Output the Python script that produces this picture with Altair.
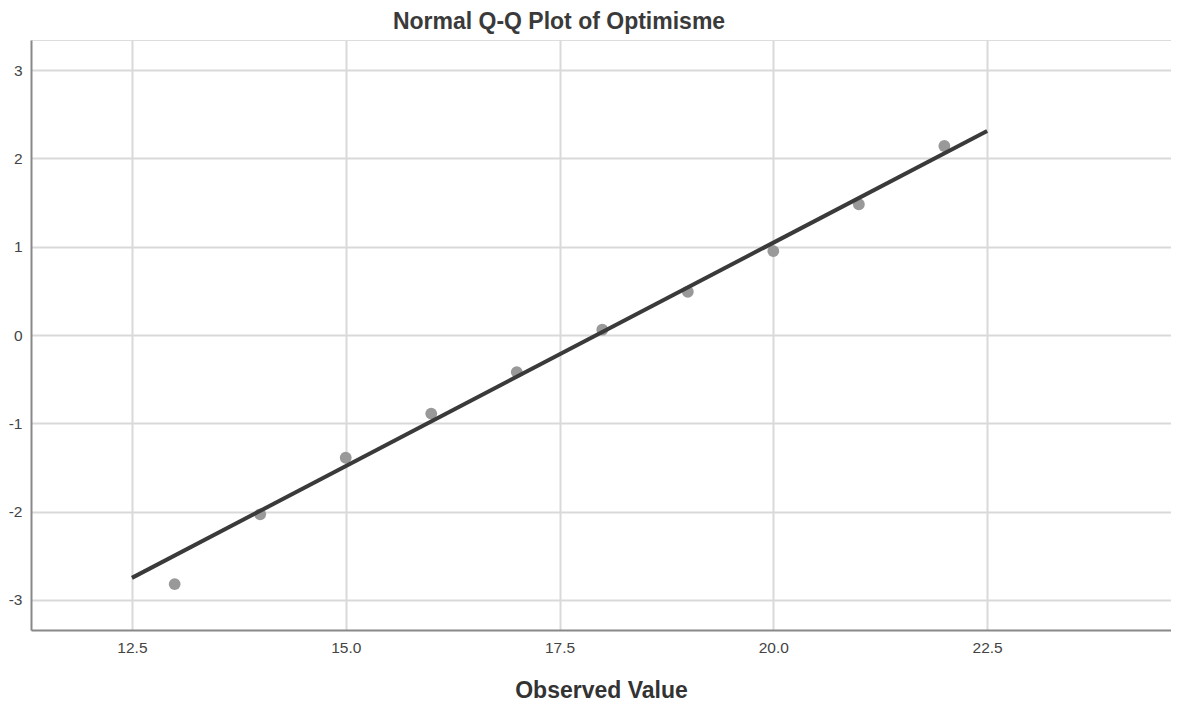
import altair as alt
import pandas as pd

observed = [13, 14, 15, 16, 17, 18, 19, 20, 21, 22]
expected = [-2.82, -2.03, -1.39, -0.89, -0.42, 0.06, 0.49, 0.95, 1.48, 2.14]
line_x = [12.5, 22.5]
line_y = [-2.75, 2.31]
x_ticks = [12.5, 15.0, 17.5, 20.0, 22.5]
y_ticks = [-3, -2, -1, 0, 1, 2, 3]

pts = pd.DataFrame({"x": observed, "y": expected})
ln = pd.DataFrame({"x": line_x, "y": line_y})

xs = alt.Scale(domain=[11.32, 24.65], nice=False, zero=False)
ys = alt.Scale(domain=[-3.34, 3.34], nice=False, zero=False)

xaxis = alt.Axis(values=x_ticks, format=".1f", title="Observed Value", ticks=False,
                 labelFontSize=15.5, labelColor="#444", labelPadding=10,
                 titleFontSize=23, titleFontWeight="bold", titleColor="#333", titlePadding=24,
                 domainColor="#888", domainWidth=2, gridColor="#d9d9d9", gridWidth=2,
                 labelFont="Liberation Sans", titleFont="Liberation Sans")
yaxis = alt.Axis(values=y_ticks, title=None, ticks=False,
                 labelExpr="replace(format(datum.value, 'd'), '\u2212', '-')",
                 labelFontSize=15.5, labelColor="#444", labelPadding=9,
                 domainColor="#888", domainWidth=2, gridColor="#d9d9d9", gridWidth=2,
                 labelFont="Liberation Sans")

points = alt.Chart(pts).mark_circle(size=140, color="#999999", opacity=1).encode(
    x=alt.X("x:Q", scale=xs, axis=xaxis),
    y=alt.Y("y:Q", scale=ys, axis=yaxis),
)
line = alt.Chart(ln).mark_line(color="#3a3a3a", strokeWidth=4).encode(
    x=alt.X("x:Q", scale=xs),
    y=alt.Y("y:Q", scale=ys),
)

chart = alt.layer(points, line).properties(
    width=1140, height=590,
    title=alt.TitleParams("Normal Q-Q Plot of Optimisme", fontSize=23, fontWeight="bold",
                          color="#3a3a3a", font="Liberation Sans", dx=-42, offset=6),
    autosize=alt.AutoSizeParams(type="none"),
    padding={"left": 23, "top": 32, "right": 0, "bottom": 72},
).configure_view(stroke=None).configure(background="white")

chart.save("out.html", embed_options={"renderer": "svg", "actions": False})
